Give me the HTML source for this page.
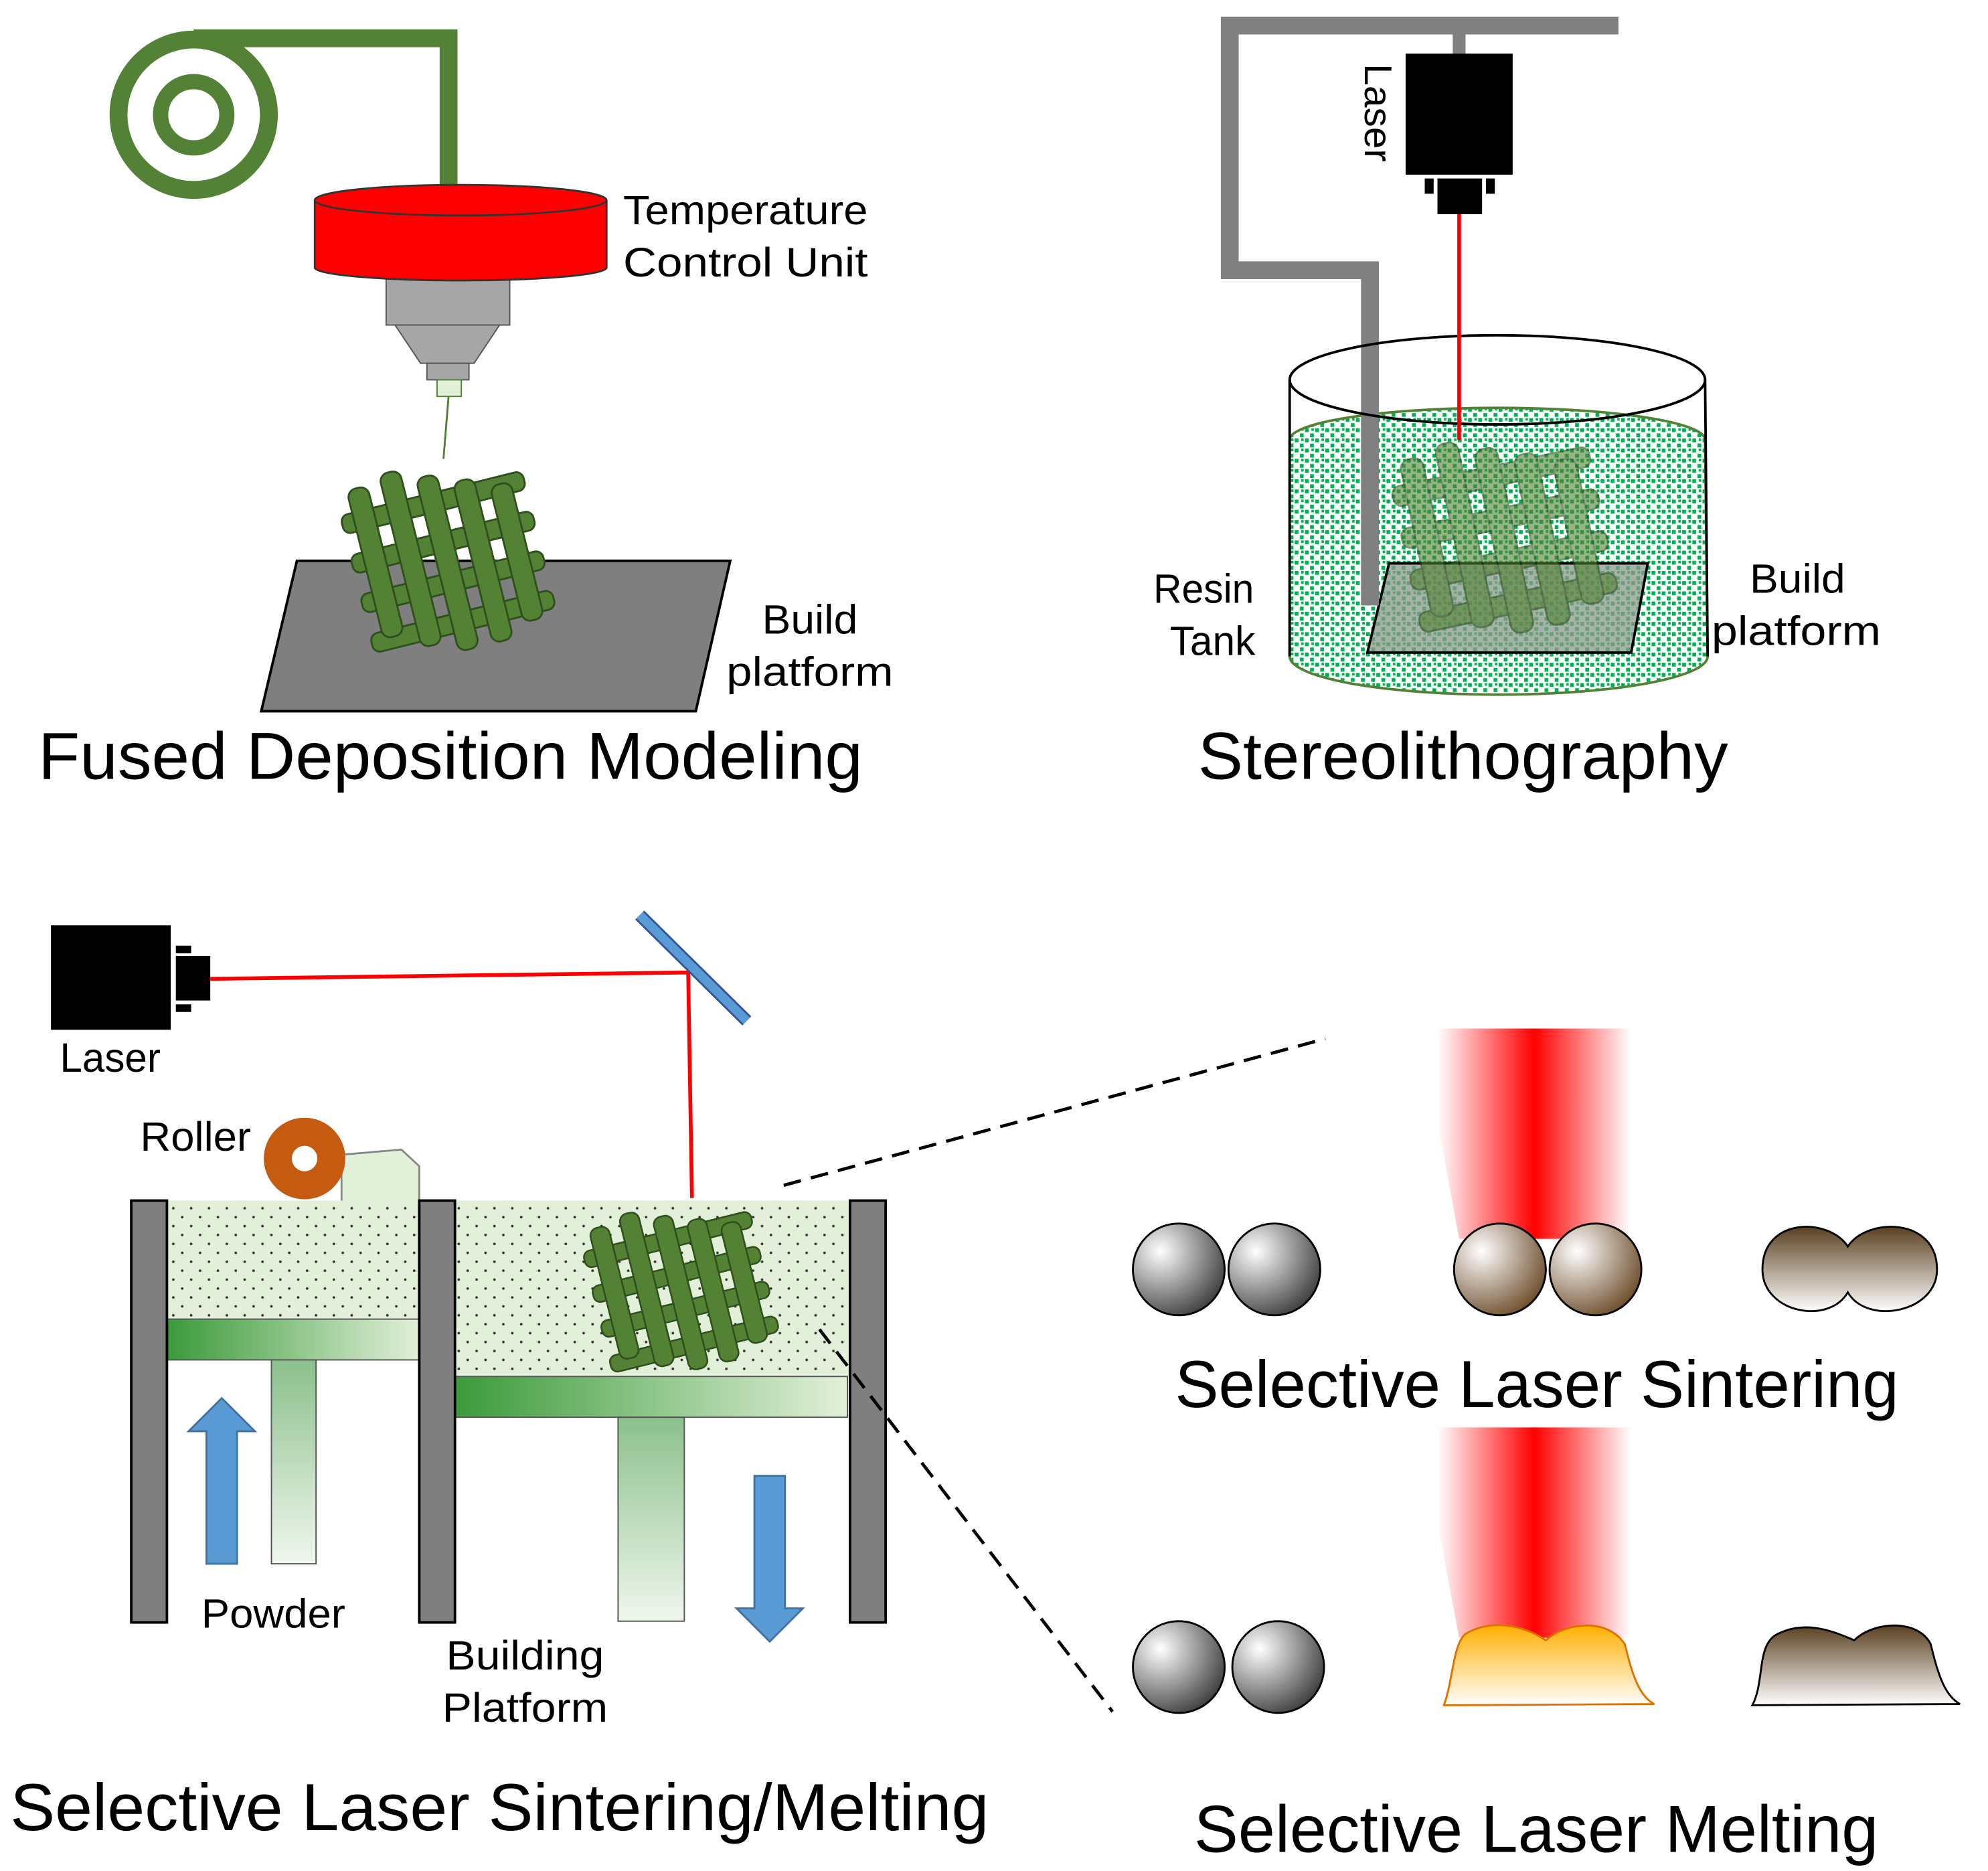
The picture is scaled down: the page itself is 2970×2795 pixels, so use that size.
<!DOCTYPE html>
<html><head><meta charset="utf-8"><style>
html,body{margin:0;padding:0;background:#fff;}
svg{display:block;}
text{font-family:"Liberation Sans",sans-serif;fill:#000;}
</style></head><body>
<svg width="2970" height="2795" viewBox="0 0 1560 1468" xmlns="http://www.w3.org/2000/svg">
<defs>
<g id="scaf">
  <g fill="#548235" stroke="#2f4f1c" stroke-width="1.5">
    <rect x="-10" y="18" width="150" height="15" rx="6"/>
    <rect x="-10" y="50" width="150" height="15" rx="6"/>
    <rect x="-10" y="82" width="150" height="15" rx="6"/>
    <rect x="-10" y="114" width="150" height="15" rx="6"/>
    <rect x="0" y="0" width="17" height="120" rx="7"/>
    <rect x="28" y="-6" width="17" height="140" rx="7"/>
    <rect x="56" y="4" width="17" height="140" rx="7"/>
    <rect x="84" y="14" width="17" height="130" rx="7"/>
    <rect x="112" y="24" width="17" height="110" rx="7"/>
  </g>
</g>
<pattern id="resin" width="8" height="8" patternUnits="userSpaceOnUse">
  <rect width="8" height="8" fill="#fff"/>
  <rect x="0" y="0" width="3" height="3" fill="#00b050"/>
  <rect x="4" y="4" width="3" height="3" fill="#00b050"/>
  <rect x="5" y="0" width="2" height="2" fill="#00b050"/>
</pattern>
<pattern id="powder" width="14" height="14" patternUnits="userSpaceOnUse">
  <rect width="14" height="14" fill="#e2f0d9"/>
  <circle cx="3" cy="3" r="1" fill="#333"/>
  <circle cx="10" cy="10" r="1" fill="#333"/>
</pattern>
<linearGradient id="pist" x1="0" y1="0" x2="1" y2="0">
  <stop offset="0" stop-color="#3a9a3a"/><stop offset="1" stop-color="#e2f0d9"/>
</linearGradient>
<linearGradient id="stem" x1="0" y1="0" x2="0" y2="1">
  <stop offset="0" stop-color="#8bc08b"/><stop offset="1" stop-color="#f0f7ee"/>
</linearGradient>
<linearGradient id="beam" x1="0" y1="0" x2="1" y2="0">
  <stop offset="0" stop-color="#fff"/><stop offset="0.5" stop-color="#ff0000"/><stop offset="1" stop-color="#fff"/>
</linearGradient>
<radialGradient id="ball" cx="0.3" cy="0.3" r="0.8">
  <stop offset="0" stop-color="#fff"/><stop offset="1" stop-color="#3a3a3a"/>
</radialGradient>
<radialGradient id="ballb" cx="0.3" cy="0.3" r="0.8">
  <stop offset="0" stop-color="#fff"/><stop offset="1" stop-color="#6b4a26"/>
</radialGradient>
<linearGradient id="brown" x1="0" y1="0" x2="0" y2="1">
  <stop offset="0" stop-color="#5a4020"/><stop offset="1" stop-color="#fff"/>
</linearGradient>
<linearGradient id="melt" x1="0" y1="0" x2="0" y2="1">
  <stop offset="0" stop-color="#ffb000"/><stop offset="1" stop-color="#fff"/>
</linearGradient>
</defs>

<!-- FDM -->
<circle cx="152" cy="90" r="59" fill="none" stroke="#538135" stroke-width="14"/>
<circle cx="152" cy="90" r="26" fill="none" stroke="#538135" stroke-width="12"/>
<polyline points="152,30 352,30 352,148" fill="none" stroke="#538135" stroke-width="14"/>
<rect x="303" y="212" width="97" height="43" fill="#a6a6a6" stroke="#555"/>
<polygon points="310,255 392,255 372,285 330,285" fill="#a6a6a6" stroke="#555"/>
<rect x="335" y="285" width="33" height="13" fill="#a6a6a6" stroke="#555"/>
<rect x="343" y="298" width="19" height="13" fill="#e2f0d9" stroke="#538135"/>
<line x1="352" y1="311" x2="348" y2="360" stroke="#538135" stroke-width="1.5"/>
<ellipse cx="361.5" cy="210" rx="114.5" ry="10" fill="#ff0000" stroke="#333" stroke-width="1.5"/>
<rect x="247" y="157" width="229" height="53" fill="#ff0000"/>
<line x1="247" y1="157" x2="247" y2="210" stroke="#333" stroke-width="1.5"/>
<line x1="476" y1="157" x2="476" y2="210" stroke="#333" stroke-width="1.5"/>
<ellipse cx="361.5" cy="157" rx="114.5" ry="12" fill="#ff0000" stroke="#333" stroke-width="1.5"/>
<polygon points="233,440 573,440 546,558 205,558" fill="#7f7f7f" stroke="#000" stroke-width="2"/>
<use href="#scaf" transform="translate(272,385) rotate(-14) scale(0.98,1)"/>
<text x="489" y="176" font-size="32" textLength="192" lengthAdjust="spacingAndGlyphs">Temperature</text>
<text x="489" y="217" font-size="32" textLength="192" lengthAdjust="spacingAndGlyphs">Control Unit</text>
<text x="598" y="497" font-size="32" textLength="75" lengthAdjust="spacingAndGlyphs">Build</text>
<text x="570" y="538" font-size="32" textLength="131" lengthAdjust="spacingAndGlyphs">platform</text>
<text x="30" y="611" font-size="52" textLength="647" lengthAdjust="spacingAndGlyphs">Fused Deposition Modeling</text>

<!-- SLA -->
<path d="M1012,345 A163,25 0 0,1 1338,345 L1340,515 A164,30 0 0,1 1012,515 Z" fill="url(#resin)" stroke="#538135" stroke-width="2"/>
<polygon points="1090,442 1293,442 1280,512 1073,512" fill="#8a9a8a" fill-opacity="0.75" stroke="#000" stroke-width="2"/>
<g opacity="0.6"><use href="#scaf" transform="translate(1098,362) rotate(-12) scale(1.05,1.05)"/></g>
<polyline points="1270,20 965,20 965,212 1075,212 1075,475" fill="none" stroke="#808080" stroke-width="14"/>
<line x1="1145" y1="20" x2="1145" y2="42" stroke="#808080" stroke-width="10"/>
<ellipse cx="1175" cy="298" rx="163" ry="35" fill="none" stroke="#000" stroke-width="2"/>
<line x1="1012" y1="298" x2="1012" y2="515" stroke="#000" stroke-width="2"/>
<line x1="1338" y1="298" x2="1340" y2="515" stroke="#000" stroke-width="2"/>
<rect x="1103" y="42" width="84" height="95" fill="#000"/>
<rect x="1128" y="140" width="35" height="28" fill="#000"/>
<rect x="1118" y="140" width="7" height="12" fill="#000"/>
<rect x="1166" y="140" width="7" height="12" fill="#000"/>
<line x1="1145" y1="168" x2="1145" y2="345" stroke="#ff0000" stroke-width="3"/>
<text font-size="30" transform="translate(1071,50) rotate(90)" textLength="77" lengthAdjust="spacingAndGlyphs">Laser</text>
<text x="905" y="473" font-size="32" textLength="79" lengthAdjust="spacingAndGlyphs">Resin</text>
<text x="918" y="514" font-size="32" textLength="67" lengthAdjust="spacingAndGlyphs">Tank</text>
<text x="1373" y="465" font-size="32" textLength="75" lengthAdjust="spacingAndGlyphs">Build</text>
<text x="1343" y="506" font-size="32" textLength="133" lengthAdjust="spacingAndGlyphs">platform</text>
<text x="940" y="611" font-size="52" textLength="416" lengthAdjust="spacingAndGlyphs">Stereolithography</text>

<!-- SLS -->
<rect x="40" y="726" width="94" height="82" fill="#000"/>
<rect x="138" y="750" width="27" height="35" fill="#000"/>
<rect x="138" y="742" width="12" height="6" fill="#000"/>
<rect x="138" y="788" width="12" height="6" fill="#000"/>
<polyline points="165,768 540,763 543,940" fill="none" stroke="#ff0000" stroke-width="3"/>
<line x1="502" y1="718" x2="586" y2="801" stroke="#2f5597" stroke-width="10"/>
<line x1="502" y1="718" x2="586" y2="801" stroke="#5b9bd5" stroke-width="7"/>
<text x="47" y="841" font-size="32" textLength="79" lengthAdjust="spacingAndGlyphs">Laser</text>
<text x="110" y="903" font-size="32" textLength="87" lengthAdjust="spacingAndGlyphs">Roller</text>
<polygon points="268,906 315,902 329,915 329,943 268,943" fill="#e2f0d9" stroke="#888" stroke-width="1.5"/>
<circle cx="239" cy="909" r="32" fill="#c55a11"/>
<circle cx="239" cy="909" r="10" fill="#fff"/>
<rect x="131" y="942" width="198" height="93" fill="url(#powder)"/>
<rect x="357" y="942" width="310" height="138" fill="url(#powder)"/>
<use href="#scaf" transform="translate(462,965) rotate(-14) scale(0.9,0.88)"/>
<rect x="131" y="1035" width="198" height="32" fill="url(#pist)" stroke="#555"/>
<rect x="213" y="1067" width="35" height="160" fill="url(#stem)" stroke="#555"/>
<rect x="355" y="1080" width="310" height="32" fill="url(#pist)" stroke="#555"/>
<rect x="485" y="1112" width="52" height="160" fill="url(#stem)" stroke="#555"/>
<rect x="103" y="942" width="28" height="331" fill="#7f7f7f" stroke="#000" stroke-width="2"/>
<rect x="329" y="942" width="28" height="331" fill="#7f7f7f" stroke="#000" stroke-width="2"/>
<rect x="667" y="942" width="28" height="331" fill="#7f7f7f" stroke="#000" stroke-width="2"/>
<polygon points="162,1227 186,1227 186,1123 200,1123 174,1097 148,1123 162,1123" fill="#5b9bd5" stroke="#41719c" stroke-width="1.5"/>
<polygon points="592,1158 616,1158 616,1262 630,1262 604,1288 578,1262 592,1262" fill="#5b9bd5" stroke="#41719c" stroke-width="1.5"/>
<text x="158" y="1277" font-size="32" textLength="113" lengthAdjust="spacingAndGlyphs">Powder</text>
<text x="350" y="1310" font-size="32" textLength="124" lengthAdjust="spacingAndGlyphs">Building</text>
<text x="347" y="1351" font-size="32" textLength="130" lengthAdjust="spacingAndGlyphs">Platform</text>
<text x="8" y="1436" font-size="52" textLength="768" lengthAdjust="spacingAndGlyphs">Selective Laser Sintering/Melting</text>
<line x1="615" y1="930" x2="1040" y2="815" stroke="#000" stroke-width="2.5" stroke-dasharray="14,8"/>
<line x1="643" y1="1043" x2="873" y2="1343" stroke="#000" stroke-width="2.5" stroke-dasharray="14,8"/>

<!-- Right panels -->
<polygon points="1128,807 1280,807 1280,972 1145,972 1128,880" fill="url(#beam)"/>
<circle cx="925" cy="996" r="36" fill="url(#ball)" stroke="#000" stroke-width="1.5"/>
<circle cx="1000" cy="996" r="36" fill="url(#ball)" stroke="#000" stroke-width="1.5"/>
<circle cx="1177" cy="996" r="36" fill="url(#ballb)" stroke="#000" stroke-width="1.5"/>
<circle cx="1252" cy="996" r="36" fill="url(#ballb)" stroke="#000" stroke-width="1.5"/>
<path d="M1450,978 C1465,955 1520,955 1520,996 C1520,1030 1465,1040 1450,1014 C1435,1040 1383,1030 1383,996 C1383,955 1435,955 1450,978 Z" fill="url(#brown)" stroke="#000" stroke-width="1.5"/>
<text x="922" y="1104" font-size="52" textLength="568" lengthAdjust="spacingAndGlyphs">Selective Laser Sintering</text>
<polygon points="1128,1120 1280,1120 1280,1285 1145,1285 1128,1195" fill="url(#beam)"/>
<circle cx="925" cy="1308" r="36" fill="url(#ball)" stroke="#000" stroke-width="1.5"/>
<circle cx="1003" cy="1308" r="36" fill="url(#ball)" stroke="#000" stroke-width="1.5"/>
<path d="M1133,1338 C1140,1320 1140,1290 1150,1282 C1170,1270 1195,1275 1213,1287 C1230,1272 1262,1270 1275,1290 C1280,1310 1285,1330 1298,1337 Z" fill="url(#melt)" stroke="#e07000" stroke-width="1.5"/>
<path d="M1375,1338 C1385,1320 1378,1290 1395,1282 C1415,1272 1435,1278 1455,1287 C1470,1272 1505,1270 1515,1290 C1520,1310 1525,1330 1538,1337 Z" fill="url(#brown)" stroke="#000" stroke-width="1.5"/>
<text x="937" y="1453" font-size="52" textLength="537" lengthAdjust="spacingAndGlyphs">Selective Laser Melting</text>
</svg>
</body></html>
